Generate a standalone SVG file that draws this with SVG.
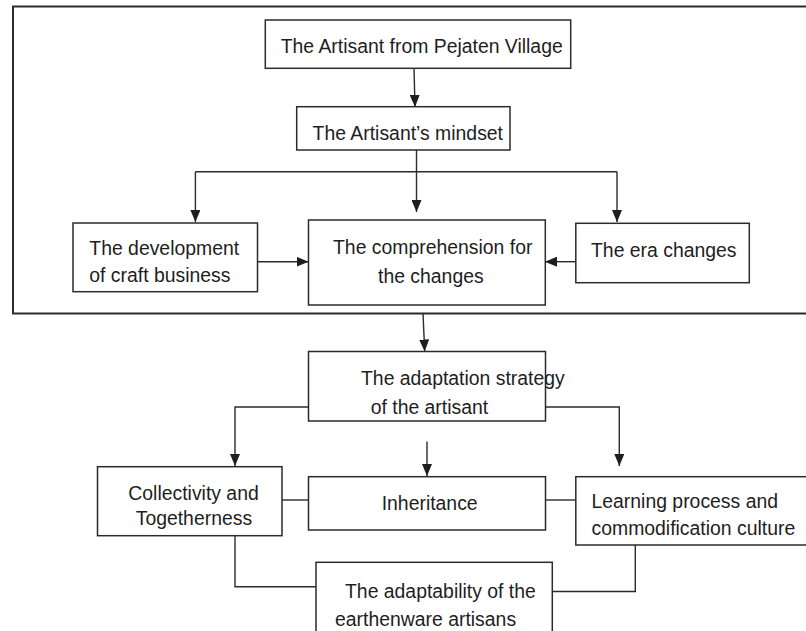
<svg xmlns="http://www.w3.org/2000/svg" width="806" height="631" viewBox="0 0 806 631">
<style>
.box{fill:#fff;stroke:#2b2b2b;stroke-width:1.5}
.frame{fill:none;stroke:#2b2b2b;stroke-width:2}
.t{font-family:"Liberation Sans",Arial,sans-serif;font-size:19.4px;fill:#1e1e1e}
.c{fill:none;stroke:#2b2b2b;stroke-width:1.4}
</style>
<defs>
<marker id="ah" markerUnits="userSpaceOnUse" markerWidth="12" markerHeight="10" refX="12" refY="5" orient="auto">
<path d="M0,0 L12,5 L0,10 z" fill="#1e1e1e"/>
</marker>
</defs>
<rect id="frame" class="frame" x="13" y="6.5" width="800" height="307"/>
<g id="connectors">
<line class="c" x1="414" y1="68" x2="415" y2="107" marker-end="url(#ah)"/>
<line class="c" x1="195.4" y1="171.7" x2="617" y2="171.7"/>
<line class="c" x1="195.4" y1="171.7" x2="195.4" y2="222" marker-end="url(#ah)"/>
<line class="c" x1="617" y1="171.7" x2="617" y2="222" marker-end="url(#ah)"/>
<line class="c" x1="416.5" y1="150" x2="416.5" y2="212" marker-end="url(#ah)"/>
<line class="c" x1="257" y1="261.7" x2="308.5" y2="261.7" marker-end="url(#ah)"/>
<line class="c" x1="576" y1="261.7" x2="545" y2="261.7" marker-end="url(#ah)"/>
<line class="c" x1="423" y1="313.5" x2="424.7" y2="351.5" marker-end="url(#ah)"/>
<polyline class="c" points="308.5,407 235,407 235,466" marker-end="url(#ah)"/>
<polyline class="c" points="545.5,407 619.3,407 619.3,466" marker-end="url(#ah)"/>
<line class="c" x1="427" y1="441.5" x2="427" y2="476" marker-end="url(#ah)"/>
<line class="c" x1="282" y1="500" x2="308.5" y2="500"/>
<line class="c" x1="545.5" y1="500" x2="576" y2="500"/>
<polyline class="c" points="235,535.7 235,586.7 316,586.7"/>
<polyline class="c" points="635.3,545 635.3,591.5 552.3,591.5"/>
</g>
<g id="n-artisant">
<rect class="box" x="265.3" y="20" width="305.4" height="48.3"/>
<text class="t" x="280.7" y="53.3">The Artisant from Pejaten Village</text>
</g>
<g id="n-mindset">
<rect class="box" x="296.7" y="106.7" width="213.3" height="43.3"/>
<text class="t" x="312.6" y="140">The Artisant’s mindset</text>
</g>
<g id="n-development">
<rect class="box" x="73" y="223" width="184.5" height="68.7"/>
<text class="t" x="89.3" y="255">The development</text>
<text class="t" x="89.3" y="281.7">of craft business</text>
</g>
<g id="n-comprehension">
<rect class="box" x="308.5" y="220" width="236.8" height="85"/>
<text class="t" x="333" y="254">The comprehension for</text>
<text class="t" x="378" y="283.3">the changes</text>
</g>
<g id="n-era">
<rect class="box" x="575.8" y="223.3" width="173.5" height="59.4"/>
<text class="t" x="591" y="256.7">The era changes</text>
</g>
<g id="n-adaptation">
<rect class="box" x="308.5" y="351.5" width="237" height="69.5"/>
<text class="t" x="361" y="385">The adaptation strategy</text>
<text class="t" x="370.7" y="414">of the artisant</text>
</g>
<g id="n-collectivity">
<rect class="box" x="97.5" y="466.7" width="184.5" height="69"/>
<text class="t" x="128.3" y="500">Collectivity and</text>
<text class="t" x="135.7" y="524.5">Togetherness</text>
</g>
<g id="n-inheritance">
<rect class="box" x="308.5" y="476.7" width="237" height="53.3"/>
<text class="t" x="381.7" y="510">Inheritance</text>
</g>
<g id="n-learning">
<rect class="box" x="575.8" y="476.7" width="240" height="68.3"/>
<text class="t" x="591.5" y="508.3">Learning process and</text>
<text class="t" x="591.5" y="534.5">commodification culture</text>
</g>
<g id="n-adaptability">
<rect class="box" x="316" y="562.3" width="236.3" height="80"/>
<text class="t" x="345" y="598">The adaptability of the</text>
<text class="t" x="335" y="626">earthenware artisans</text>
</g>
</svg>
